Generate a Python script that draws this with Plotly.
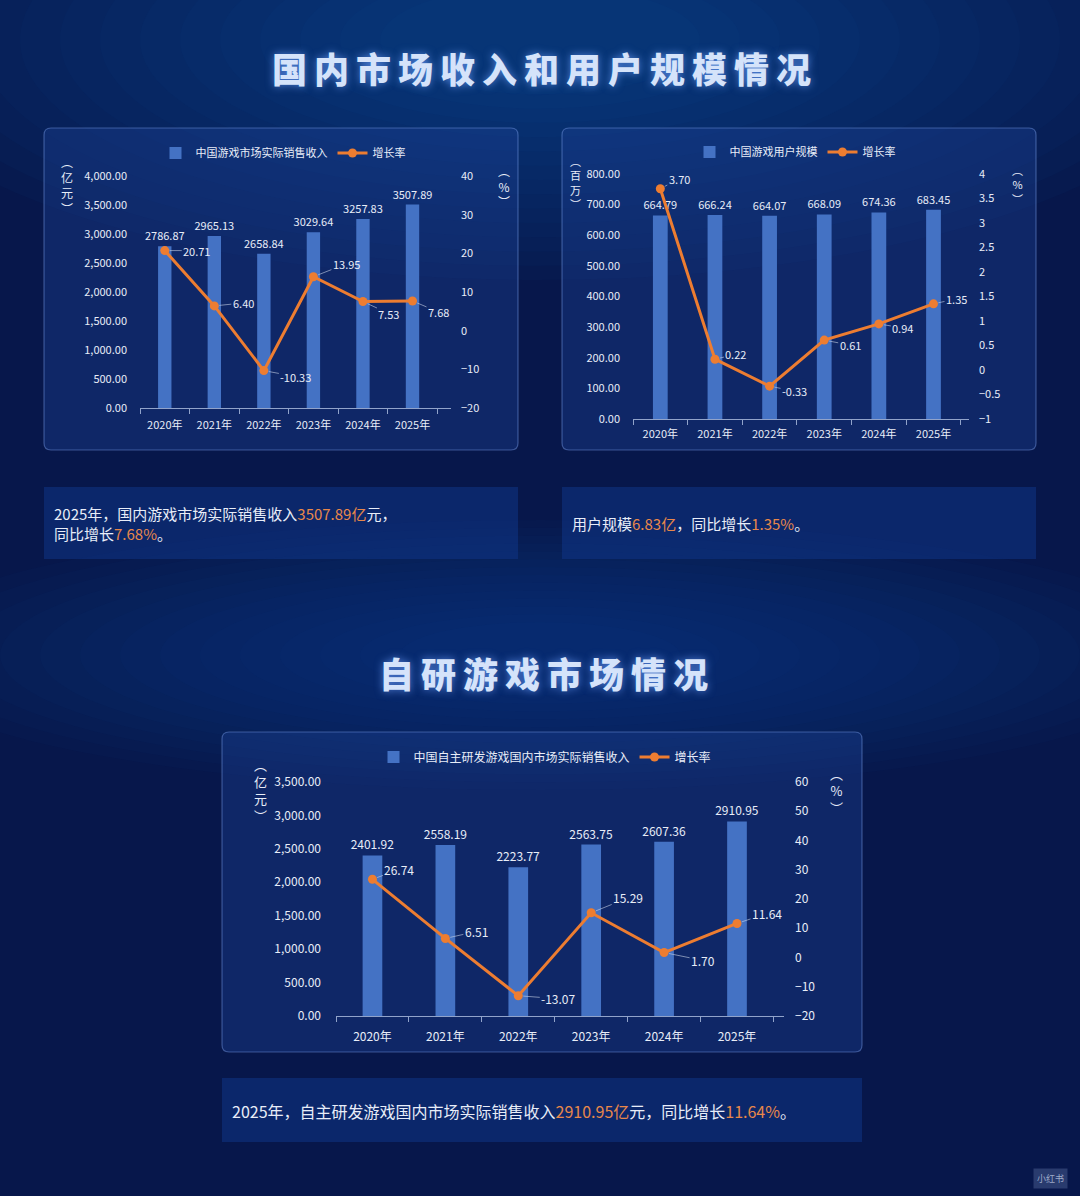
import plotly.graph_objects as go

# ---------------- data ----------------
years = ["2020年", "2021年", "2022年", "2023年", "2024年", "2025年"]
market_revenue = [2786.87, 2965.13, 2658.84, 3029.64, 3257.83, 3507.89]
market_growth = [20.71, 6.40, -10.33, 13.95, 7.53, 7.68]
game_users = [664.79, 666.24, 664.07, 668.09, 674.36, 683.45]
user_growth = [3.70, 0.22, -0.33, 0.61, 0.94, 1.35]
selfdev_revenue = [2401.92, 2558.19, 2223.77, 2563.75, 2607.36, 2910.95]
selfdev_growth = [26.74, 6.51, -13.07, 15.29, 1.70, 11.64]

title_1 = "国内市场收入和用户规模情况"
title_2 = "自研游戏市场情况"
name_market = "中国游戏市场实际销售收入"
name_users = "中国游戏用户规模"
name_selfdev = "中国自主研发游戏国内市场实际销售收入"
name_growth = "增长率"

# ---------------- style ----------------
W, H = 1080, 1196
FONT = "Noto Sans CJK SC, Noto Sans, sans-serif"
BAR = "#4472C4"
LINE = "#ED7D31"
TXT = "#E8EDF8"
ORANGE = "#E8874A"
AXLINE = "rgba(190,205,235,0.75)"

label_offsets_1 = [(32, 0), (29, -3), (32, 6), (33, -13), (26, 12), (26, 11)]
label_offsets_2 = [(19, -10), (21, -5), (25, 5), (26, 5), (24, 4), (23, -5)]
label_offsets_3 = [(27, -10), (31, -7), (40, 3), (37, -15), (39, 8), (30, -10)]


def px(p):
    return p / W


def py(p):
    return 1 - p / H


def rrect_path(x0, y0, x1, y1, r):
    def P(x, y):
        return f"{px(x):.5f},{py(y):.5f}"

    return (f"M{P(x0 + r, y0)} L{P(x1 - r, y0)} Q{P(x1, y0)} {P(x1, y0 + r)} "
            f"L{P(x1, y1 - r)} Q{P(x1, y1)} {P(x1 - r, y1)} L{P(x0 + r, y1)} "
            f"Q{P(x0, y1)} {P(x0, y1 - r)} L{P(x0, y0 + r)} Q{P(x0, y0)} {P(x0 + r, y0)} Z")


fig = go.Figure()

panels = [
    dict(xa="x", ya="y", ya2="y2", leg="legend", bars=market_revenue, rates=market_growth,
         bname=name_market, offs=label_offsets_1, fs=11),
    dict(xa="x2", ya="y3", ya2="y4", leg="legend2", bars=game_users, rates=user_growth,
         bname=name_users, offs=label_offsets_2, fs=11),
    dict(xa="x3", ya="y5", ya2="y6", leg="legend3", bars=selfdev_revenue, rates=selfdev_growth,
         bname=name_selfdev, offs=label_offsets_3, fs=12),
]

annotations = []
for p in panels:
    fig.add_trace(go.Bar(
        x=years, y=p["bars"], name=p["bname"], xaxis=p["xa"], yaxis=p["ya"], legend=p["leg"],
        marker=dict(color=BAR, line=dict(width=0)), width=0.27,
        texttemplate="%{y:.2f}", textposition="outside", cliponaxis=False,
        constraintext="none",
        textfont=dict(color=TXT, size=p["fs"], family=FONT), hoverinfo="x+y",
    ))
    fig.add_trace(go.Scatter(
        x=years, y=p["rates"], name=name_growth, xaxis=p["xa"], yaxis=p["ya2"], legend=p["leg"],
        mode="lines+markers", line=dict(color=LINE, width=3),
        marker=dict(color=LINE, size=9), cliponaxis=False,
    ))
    for yr, v, (ax, ay) in zip(years, p["rates"], p["offs"]):
        annotations.append(dict(
            x=yr, y=v, xref=p["xa"], yref=p["ya2"], text=f"{v:.2f}",
            showarrow=True, arrowhead=0, arrowwidth=1, arrowcolor="rgba(200,210,230,0.6)",
            ax=ax, ay=ay, standoff=5, font=dict(color=TXT, size=p["fs"], family=FONT),
        ))


def xaxis(x0, x1, anchor, fs, standoff):
    return dict(domain=[px(x0), px(x1)], anchor=anchor, type="category",
                showline=True, linecolor=AXLINE, linewidth=1.2, ticks="outside",
                tickson="boundaries", ticklen=5, tickcolor=AXLINE, showgrid=False,
                zeroline=False, tickfont=dict(color=TXT, size=fs, family=FONT),
                ticklabelstandoff=standoff, fixedrange=True, automargin=False)


def yaxis(top, bot, rng, dtick, fmt, side, anchor, fs, standoff, overlay=None):
    d = dict(domain=[py(bot), py(top)], range=rng, dtick=dtick, tick0=rng[0],
             tickformat=fmt, side=side, anchor=anchor, showgrid=False, zeroline=False,
             showline=False, ticks="", tickfont=dict(color=TXT, size=fs, family=FONT),
             ticklabelstandoff=standoff, fixedrange=True, automargin=False)
    if overlay:
        d["overlaying"] = overlay
    return d


def legend(cx, cy, fs):
    return dict(x=px(cx), y=py(cy), xanchor="center", yanchor="middle", orientation="h",
                font=dict(color=TXT, size=fs, family=FONT), bgcolor="rgba(0,0,0,0)",
                itemclick=False, itemdoubleclick=False, tracegroupgap=0)


# ---------------- shapes (background, panels) ----------------
shapes = []
# soft glow near first title
n = 14
for i in range(n):
    f = 1 - i / n
    rx, ry = 120 + 560 * f, 40 + 200 * f
    shapes.append(dict(type="circle", xref="paper", yref="paper", layer="below",
                       x0=px(540 - rx), x1=px(540 + rx), y0=py(40 + ry), y1=py(40 - ry),
                       fillcolor="rgba(35,105,195,0.035)", line=dict(width=0)))
# soft glow near second title
for i in range(n):
    f = 1 - i / n
    rx, ry = 100 + 560 * f, 25 + 110 * f
    shapes.append(dict(type="circle", xref="paper", yref="paper", layer="below",
                       x0=px(540 - rx), x1=px(540 + rx), y0=py(655 + ry), y1=py(655 - ry),
                       fillcolor="rgba(35,105,195,0.03)", line=dict(width=0)))

# chart panels
for (x0, y0, x1, y1) in [(44, 128, 518, 450), (562, 128, 1036, 450), (222, 732, 862, 1052)]:
    shapes.append(dict(type="path", xref="paper", yref="paper", layer="below",
                       path=rrect_path(x0, y0, x1, y1, 7),
                       fillcolor="rgba(28,66,150,0.38)",
                       line=dict(color="rgba(120,155,230,0.45)", width=1.2)))
# text boxes
for (x0, y0, x1, y1) in [(44, 487, 518, 559), (562, 487, 1036, 559), (222, 1078, 862, 1142)]:
    shapes.append(dict(type="rect", xref="paper", yref="paper", layer="below",
                       x0=px(x0), x1=px(x1), y0=py(y1), y1=py(y0),
                       fillcolor="rgba(14,52,135,0.55)", line=dict(width=0)))


# ---------------- text annotations ----------------
def spaced(s):
    return "\u2009".join(s)


title_font = dict(color="#D5E3FA", size=35, family=FONT, weight=900,
                  shadow="0px 0px 8px rgba(110,160,255,0.75)")
annotations.append(dict(x=px(541), y=py(67), xref="paper", yref="paper", text=spaced(title_1),
                        showarrow=False, font=title_font, xanchor="center", yanchor="middle"))
annotations.append(dict(x=px(543), y=py(672), xref="paper", yref="paper", text=spaced(title_2),
                        showarrow=False, font=title_font, xanchor="center", yanchor="middle"))


def vlabel(x, y, chars, fs):
    annotations.append(dict(x=px(x), y=py(y), xref="paper", yref="paper",
                            text="<br>".join(["\ufe35"] + list(chars) + ["\ufe36"]),
                            showarrow=False, xanchor="center", yanchor="middle",
                            font=dict(color=TXT, size=fs, family=FONT)))


vlabel(67, 185, "亿元", 12)
vlabel(504, 186, "%", 12)
vlabel(575, 182, "百万", 11)
vlabel(1017, 185, "%", 11)
vlabel(260, 790, "亿元", 13)
vlabel(836, 791, "%", 13)


def hl(s):
    return f"<span style='color:{ORANGE}'>{s}</span>"


annotations.append(dict(
    x=px(52), y=py(524), xref="paper", yref="paper", xanchor="left", yanchor="middle",
    align="left", showarrow=False, font=dict(color=TXT, size=15, family=FONT),
    text=(f"2025年，国内游戏市场实际销售收入{hl(f'{market_revenue[-1]:.2f}亿')}元，<br>"
          f"同比增长{hl(f'{market_growth[-1]:.2f}%')}。")))
annotations.append(dict(
    x=px(570), y=py(523), xref="paper", yref="paper", xanchor="left", yanchor="middle",
    align="left", showarrow=False, font=dict(color=TXT, size=15, family=FONT),
    text=f"用户规模{hl(f'{game_users[-1] / 100:.2f}亿')}，同比增长{hl(f'{user_growth[-1]:.2f}%')}。"))
annotations.append(dict(
    x=px(230), y=py(1111), xref="paper", yref="paper", xanchor="left", yanchor="middle",
    align="left", showarrow=False, font=dict(color=TXT, size=16, family=FONT),
    text=(f"2025年，自主研发游戏国内市场实际销售收入{hl(f'{selfdev_revenue[-1]:.2f}亿')}元，"
          f"同比增长{hl(f'{selfdev_growth[-1]:.2f}%')}。")))
annotations.append(dict(
    x=px(1050), y=py(1178), xref="paper", yref="paper", xanchor="center", yanchor="middle",
    showarrow=False, text="小红书", bgcolor="rgba(70,90,140,0.55)", borderpad=3,
    font=dict(color="rgba(190,200,225,0.8)", size=9, family=FONT)))

fig.update_layout(
    width=W, height=H, margin=dict(l=0, r=0, t=0, b=0, pad=0, autoexpand=False),
    paper_bgcolor="#07174B", plot_bgcolor="rgba(0,0,0,0)",
    font=dict(family=FONT, color=TXT), barmode="group",
    showlegend=True,
    xaxis=xaxis(140, 451, "y", 11, 7),
    yaxis=yaxis(176, 408, [0, 4000], 500, ",.2f", "left", "x", 11, 12),
    yaxis2=yaxis(176, 408, [-20, 40], 10, "", "right", "x", 11, 9, overlay="y"),
    xaxis2=xaxis(633, 969, "y3", 11, 5),
    yaxis3=yaxis(174, 419, [0, 800], 100, ".2f", "left", "x2", 11, 12),
    yaxis4=yaxis(174, 419, [-1, 4], 0.5, "", "right", "x2", 11, 9, overlay="y3"),
    xaxis3=xaxis(336, 784, "y5", 12, 9),
    yaxis5=yaxis(782, 1016, [0, 3500], 500, ",.2f", "left", "x3", 12, 14),
    yaxis6=yaxis(782, 1016, [-20, 60], 10, "", "right", "x3", 12, 10, overlay="y5"),
    legend=legend(283, 153, 11),
    legend2=legend(795, 152, 11),
    legend3=legend(545, 757, 12),
    shapes=shapes, annotations=annotations,
)

fig.write_html("out.html", config={"displayModeBar": False},
               post_script="document.body.style.margin='0';")
